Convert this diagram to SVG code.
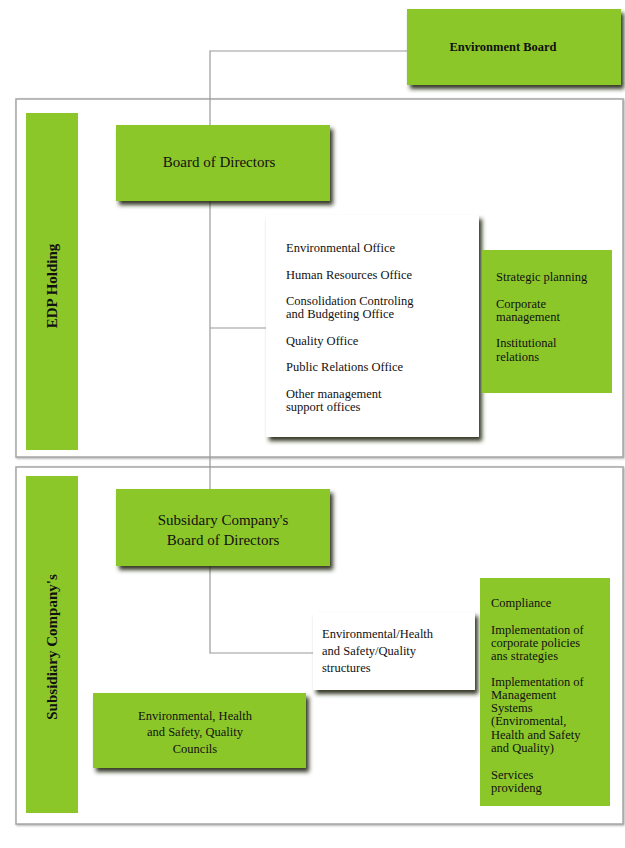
<svg xmlns="http://www.w3.org/2000/svg" width="625" height="848" viewBox="0 0 625 848" font-family="'Liberation Serif', 'DejaVu Serif', 'Times New Roman', serif">
<defs>
<filter id="sh" x="-10%" y="-10%" width="125%" height="130%">
<feDropShadow dx="3" dy="4" stdDeviation="2" flood-color="#1c2410" flood-opacity="0.9"/>
</filter>
<filter id="sh2" x="-5%" y="-5%" width="110%" height="110%">
<feDropShadow dx="1" dy="1" stdDeviation="1" flood-color="#777" flood-opacity="0.6"/>
</filter>
</defs>
<style>
text{font-family:'Liberation Serif','DejaVu Serif','Times New Roman',serif;fill:#111;}
.t{font-size:12.5px;}
.m{font-size:15px;}
.c{text-anchor:middle;}
.b{font-weight:bold;}
.g{fill:#8cc72a;}
.w{fill:#fff;}
.frame{fill:#fff;stroke:#a6a6a6;stroke-width:1.5;}
.ln{fill:none;stroke:#9a9a9a;stroke-width:1.2;}
</style>
<rect width="625" height="848" fill="#fff"/>

<g id="edp-holding">
<rect class="frame" x="16" y="99" width="607" height="358" filter="url(#sh2)"/>
<rect class="g" x="26" y="113" width="52" height="337"/>
<text class="m b c" transform="translate(57,286) rotate(-90)">EDP Holding</text>
</g>

<g id="subsidiary">
<rect class="frame" x="16" y="467" width="607" height="357" filter="url(#sh2)"/>
<rect class="g" x="26" y="476" width="52" height="337"/>
<text class="m b c" transform="translate(57,647) rotate(-90)">Subsidiary Company's</text>
</g>

<g id="connectors">
<polyline class="ln" points="407,51 210,51 210,653 313,653"/>
<line class="ln" x1="210" y1="328" x2="266" y2="328"/>
</g>

<g id="environment-board">
<rect class="g" x="407" y="9" width="214" height="76" filter="url(#sh)"/>
<text class="t b c" x="503" y="51">Environment Board</text>
</g>

<g id="board-of-directors">
<rect class="g" x="116" y="125" width="214" height="76" filter="url(#sh)"/>
<text class="m c" x="219" y="167">Board of Directors</text>
</g>

<g id="offices">
<rect class="w" x="266" y="215" width="213" height="222" filter="url(#sh)"/>
<text class="t" x="286" y="252">Environmental Office</text>
<text class="t" x="286" y="279">Human Resources Office</text>
<text class="t" x="286" y="305">Consolidation Controling</text>
<text class="t" x="286" y="318">and Budgeting Office</text>
<text class="t" x="286" y="345">Quality Office</text>
<text class="t" x="286" y="371">Public Relations Office</text>
<text class="t" x="286" y="398">Other management</text>
<text class="t" x="286" y="411">support offices</text>
</g>

<g id="holding-roles">
<rect class="g" x="482" y="250" width="130" height="143"/>
<text class="t" x="496" y="281">Strategic planning</text>
<text class="t" x="496" y="308">Corporate</text>
<text class="t" x="496" y="321">management</text>
<text class="t" x="496" y="347">Institutional</text>
<text class="t" x="496" y="361">relations</text>
</g>

<g id="subsidiary-board">
<rect class="g" x="116" y="489" width="214" height="77" filter="url(#sh)"/>
<text class="m c" x="223" y="525">Subsidary Company's</text>
<text class="m c" x="223" y="545">Board of Directors</text>
</g>

<g id="ehsq-structures">
<rect class="w" x="313" y="612" width="162" height="78" filter="url(#sh)"/>
<text class="t" x="322" y="638">Environmental/Health</text>
<text class="t" x="322" y="655">and Safety/Quality</text>
<text class="t" x="322" y="672">structures</text>
</g>

<g id="ehsq-councils">
<rect class="g" x="93" y="693" width="213" height="75" filter="url(#sh)"/>
<text class="t c" x="195" y="720">Environmental, Health</text>
<text class="t c" x="195" y="736">and Safety, Quality</text>
<text class="t c" x="195" y="753">Councils</text>
</g>

<g id="subsidiary-roles">
<rect class="g" x="480" y="578" width="130" height="228"/>
<text class="t" x="491" y="607">Compliance</text>
<text class="t" x="491" y="634">Implementation of</text>
<text class="t" x="491" y="647">corporate policies</text>
<text class="t" x="491" y="660">ans strategies</text>
<text class="t" x="491" y="686">Implementation of</text>
<text class="t" x="491" y="699">Management</text>
<text class="t" x="491" y="712">Systems</text>
<text class="t" x="491" y="725">(Enviromental,</text>
<text class="t" x="491" y="739">Health and Safety</text>
<text class="t" x="491" y="752">and Quality)</text>
<text class="t" x="491" y="779">Services</text>
<text class="t" x="491" y="792">provideng</text>
</g>
</svg>
